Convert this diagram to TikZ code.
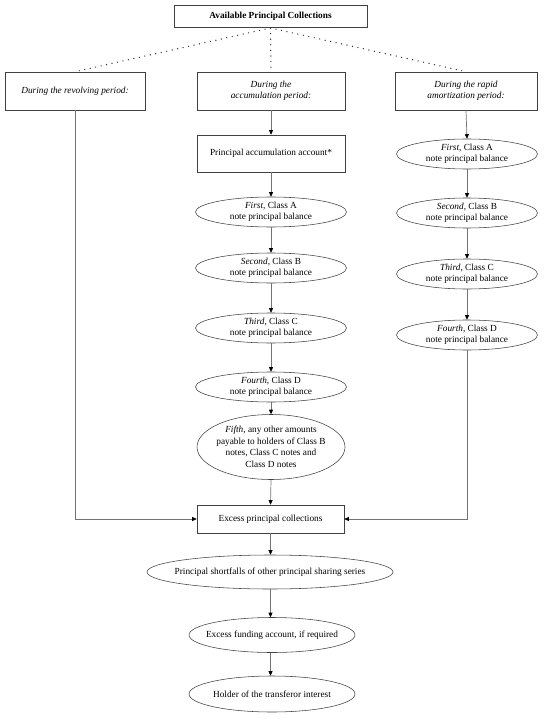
\documentclass[tikz,border=0pt]{standalone}
\usepackage{fontspec}
\setmainfont{Liberation Serif}
\usetikzlibrary{arrows.meta,shapes.geometric}
\begin{document}
\begin{tikzpicture}[x=1pt,y=-1pt,
  font=\fontsize{9.3}{11.5}\selectfont,
  box/.style={draw=black!75,line width=0.6pt,rectangle,inner sep=0pt,align=center},
  ell/.style={draw=black!75,line width=0.55pt,ellipse,inner sep=0pt},
  txt/.style={align=center,inner sep=0pt},
  conn/.style={draw=black!55,line width=0.7pt,-{Triangle[length=4.5pt,width=4pt,fill=black,color=black]}},
  dots/.style={line width=1.4pt,line cap=round,dash pattern=on 0pt off 5.6pt,black!80}]
\useasboundingbox (0,0) rectangle (543,719);

% top
\node[box,minimum width=193,minimum height=22] (top) at (270.5,16) {\textbf{Available Principal Collections}};

% period boxes
\node[box,minimum width=140,minimum height=38] (rev) at (75,91) {\textit{During the revolving period:}};
\node[box,minimum width=148,minimum height=38] (acc) at (271,91) {\textit{During the}\\\textit{accumulation period:}};
\node[box,minimum width=142,minimum height=38] (amo) at (466,91) {\textit{During the rapid}\\\textit{amortization period:}};

\coordinate (topb) at (270.5,28);
\draw[dots] (topb) -- (rev.north);
\draw[dots] (topb) -- (acc.north);
\draw[dots] (topb) -- (amo.north);

% middle column
\node[box,minimum width=148,minimum height=37] (paa) at (271,153.5) {Principal accumulation account*};
\node[ell,minimum width=151,minimum height=30] (m1) at (271,212) {};
\node[txt] (m1t) at (m1) {\textit{First}, Class A\\note principal balance};
\node[ell,minimum width=151,minimum height=30] (m2) at (271,268) {};
\node[txt] (m2t) at (m2) {\textit{Second}, Class B\\note principal balance};
\node[ell,minimum width=151,minimum height=30] (m3) at (271,328) {};
\node[txt] (m3t) at (m3) {\textit{Third}, Class C\\note principal balance};
\node[ell,minimum width=151,minimum height=30] (m4) at (271,387) {};
\node[txt] (m4t) at (m4) {\textit{Fourth}, Class D\\note principal balance};
\node[ell,minimum width=148,minimum height=65] (m5) at (271,447) {};
\node[txt] (m5t) at (m5) {\textit{Fifth}, any other amounts\\payable to holders of Class B\\notes, Class C notes and\\Class D notes};

% right column
\node[ell,minimum width=141,minimum height=30] (r1) at (467,154) {};
\node[txt] (r1t) at (r1) {\textit{First}, Class A\\note principal balance};
\node[ell,minimum width=141,minimum height=30] (r2) at (467,213) {};
\node[txt] (r2t) at (r2) {\textit{Second}, Class B\\note principal balance};
\node[ell,minimum width=141,minimum height=30] (r3) at (467,274) {};
\node[txt] (r3t) at (r3) {\textit{Third}, Class C\\note principal balance};
\node[ell,minimum width=141,minimum height=30] (r4) at (467,335) {};
\node[txt] (r4t) at (r4) {\textit{Fourth}, Class D\\note principal balance};

% bottom
\node[box,minimum width=147,minimum height=28] (exc) at (270.5,519) {Excess principal collections};
\node[ell,minimum width=246,minimum height=34] (b1) at (270,572) {};
\node[txt] (b1t) at (b1) {Principal shortfalls of other principal sharing series};
\node[ell,minimum width=166,minimum height=35] (b2) at (272,635) {};
\node[txt] (b2t) at (b2) {Excess funding account, if required};
\node[ell,minimum width=166,minimum height=36] (b3) at (272,694) {};
\node[txt] (b3t) at (b3) {Holder of the transferor interest};

% connectors middle
\draw[conn] (acc.south) -- (paa.north);
\draw[conn] (paa.south) -- (m1.north);
\draw[conn] (m1.south) -- (m2.north);
\draw[conn] (m2.south) -- (m3.north);
\draw[conn] (m3.south) -- (m4.north);
\draw[conn] (m4.south) -- (m5.north);
\draw[conn] (m5.south) -- (exc.north);

% connectors right
\draw[conn] (amo.south) -- (r1.north);
\draw[conn] (r1.south) -- (r2.north);
\draw[conn] (r2.south) -- (r3.north);
\draw[conn] (r3.south) -- (r4.north);

% side connectors
\draw[conn] (rev.south) |- (exc.west);
\draw[conn] (r4.south) |- (exc.east);

% bottom connectors
\draw[conn] (exc.south) -- (b1.north -| exc.south);
\draw[conn] (b1.south -| exc.south) -- (b2.north -| exc.south);
\draw[conn] (b2.south -| exc.south) -- (b3.north -| exc.south);
\end{tikzpicture}
\end{document}
